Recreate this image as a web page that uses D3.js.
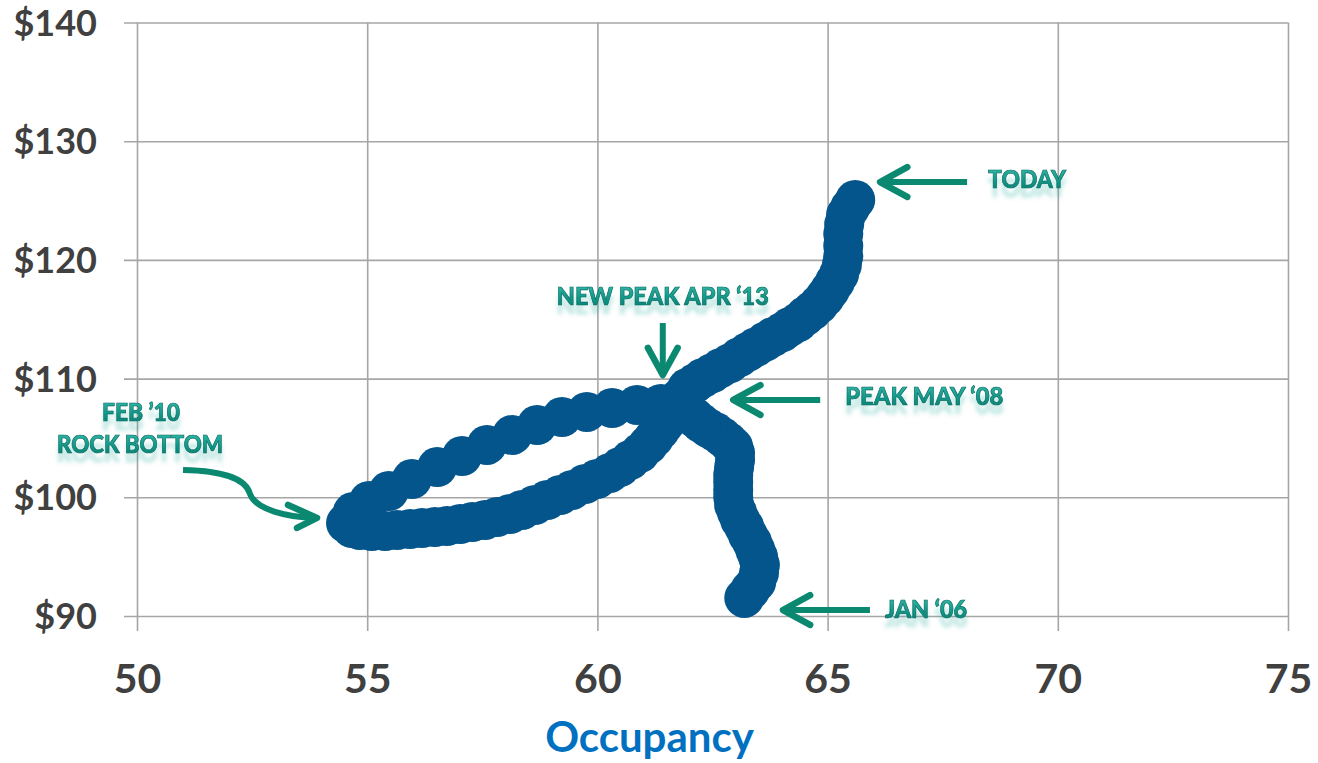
<!DOCTYPE html>
<html>
<head>
<meta charset="utf-8">
<script src="https://cdn.jsdelivr.net/npm/d3@7"></script>
<style>
  body { margin: 0; background: #ffffff; }
  svg { display: block; }
</style>
</head>
<body>
<svg id="chart" width="1318" height="763"></svg>
<script>
// Monthly hotel occupancy (%) vs average daily rate ($), Jan 2006 through today
const occupancy = [
  // Jan '06 -> May '08
  63.19, 63.32, 63.45, 63.51, 63.53, 63.49, 63.43, 63.36, 63.27, 63.19, 63.10, 63.03, 62.97, 62.95, 62.95, 62.95,
  62.95, 62.97, 62.99, 62.99, 62.95, 62.84, 62.71, 62.56, 62.40, 62.25, 62.12, 62.01, 61.90, 61.75, 61.62,
  // May '08 -> Feb '10
  61.38, 60.86, 60.32, 59.77, 59.23, 58.69, 58.15, 57.60, 57.06, 56.52, 55.97, 55.47, 55.04, 54.69, 54.54,
  // Feb '10 -> Apr '13
  54.67, 54.84, 55.10, 55.39, 55.65, 55.93, 56.19, 56.47, 56.73, 57.02, 57.28, 57.56, 57.82, 58.10, 58.36,
  58.64, 58.91, 59.19, 59.45, 59.73, 59.99, 60.27, 60.49, 60.71, 60.92, 61.10, 61.23, 61.36, 61.47, 61.56,
  61.66, 61.79,
  // Apr '13 -> today
  61.95, 62.12, 62.29, 62.49, 62.68, 62.88, 63.08, 63.27, 63.44, 63.64, 63.81, 64.01, 64.18, 64.36, 64.51,
  64.66, 64.81, 64.94, 65.05, 65.16, 65.25, 65.31, 65.34, 65.34, 65.34, 65.36, 65.40, 65.49, 65.60
];
const adr = [
  // Jan '06 -> May '08
  91.52, 92.19, 92.86, 93.62, 94.30, 94.97, 95.56, 96.23, 96.82, 97.50, 98.09, 98.76, 99.35, 100.03, 100.62, 101.29,
  101.88, 102.55, 103.14, 103.73, 104.24, 104.66, 105.08, 105.50, 105.84, 106.26, 106.68, 107.02, 107.35, 107.61, 107.86,
  // May '08 -> Feb '10
  107.86, 107.78, 107.52, 107.19, 106.76, 106.09, 105.25, 104.41, 103.48, 102.55, 101.54, 100.53, 99.69, 98.76, 97.83,
  // Feb '10 -> Apr '13
  97.41, 97.25, 97.16, 97.16, 97.25, 97.33, 97.41, 97.50, 97.58, 97.75, 97.92, 98.09, 98.34, 98.59, 98.93,
  99.35, 99.77, 100.19, 100.62, 101.12, 101.54, 102.05, 102.55, 103.14, 103.73, 104.41, 105.00, 105.67, 106.26, 106.93,
  107.61, 108.37,
  // Apr '13 -> today
  109.2, 109.6, 110.05, 110.45, 110.9, 111.3, 111.8, 112.25, 112.65, 113.1, 113.5, 113.9, 114.35, 114.75, 115.25,
  115.7, 116.25, 116.85, 117.45, 118.15, 118.81, 119.57, 120.3, 121.2, 122.2, 123.0, 123.8, 124.4, 125.05
];
const xTicks = [50, 55, 60, 65, 70, 75];
const yTicks = [90, 100, 110, 120, 130, 140];
const xTitle = "Occupancy";

// Callout texts and the data-space point each arrow tip points at
const noteLabels = [["TODAY"], ["NEW PEAK APR \u201813"], ["PEAK MAY \u201808"], ["JAN \u201806"], ["FEB \u201910", "ROCK BOTTOM"]];
const noteTipOcc = [66.14, 61.42, 62.95, 64.03, 53.91];
const noteTipAdr = [126.56, 110.3, 108.2, 90.5, 98.26];

const svg = d3.select("#chart");
const plotLeft = 137, plotRight = 1288, plotTop = 22.5, plotBottom = 616;

const x = d3.scaleLinear().domain([50, 75]).range([plotLeft, plotRight]);
const y = d3.scaleLinear().domain([90, 140]).range([plotBottom, plotTop]);

const gridColor = "#a6a6a6";
const labelColor = "#404040";
const noteColor = "#0a8870";

// Gradient for the callout lettering and a soft glow that trails beneath it
const defs = svg.append("defs");
const g1 = defs.append("linearGradient").attr("id", "noteFill").attr("x1", 0).attr("y1", 0).attr("x2", 0).attr("y2", 1);
g1.append("stop").attr("offset", "0%").attr("stop-color", "#3cc2b2");
g1.append("stop").attr("offset", "55%").attr("stop-color", "#139a8b");
g1.append("stop").attr("offset", "100%").attr("stop-color", "#0b7a6e");
const glow = defs.append("filter").attr("id", "glowBelow")
  .attr("x", "-10%").attr("y", "-30%").attr("width", "120%").attr("height", "200%");
glow.append("feGaussianBlur").attr("in", "SourceAlpha").attr("stdDeviation", 2.2).attr("result", "blur");
glow.append("feOffset").attr("in", "blur").attr("dy", 9).attr("result", "low");
glow.append("feFlood").attr("flood-color", "#1aa090").attr("flood-opacity", 0.28);
glow.append("feComposite").attr("in2", "low").attr("operator", "in").attr("result", "shade");
const merge = glow.append("feMerge");
merge.append("feMergeNode").attr("in", "shade");
merge.append("feMergeNode").attr("in", "SourceGraphic");

// Y axis: ticks reach out past the plot edge and continue as gridlines
const yAxis = svg.append("g")
  .attr("transform", `translate(${plotLeft - 13},0)`)
  .call(d3.axisLeft(y).tickValues(yTicks).tickSize(-(plotRight - plotLeft + 13)).tickFormat(d => "$" + d));
yAxis.select(".domain").remove();
yAxis.selectAll("line").attr("stroke", gridColor).attr("stroke-width", 1.6);
yAxis.selectAll("text")
  .attr("x", -27).attr("dy", null).attr("y", 12.5)
  .attr("fill", labelColor)
  .style("font-family", "Lato, 'Open Sans', sans-serif")
  .style("font-weight", 700).style("font-size", "36px");

// X axis
const xAxis = svg.append("g")
  .attr("transform", `translate(0,${plotBottom + 15})`)
  .call(d3.axisBottom(x).tickValues(xTicks).tickSize(-(plotBottom + 15 - plotTop)));
xAxis.select(".domain").remove();
xAxis.selectAll("line").attr("stroke", gridColor).attr("stroke-width", 1.6);
xAxis.selectAll("text")
  .attr("y", 62).attr("dy", null)
  .attr("fill", labelColor)
  .style("font-family", "Lato, 'Open Sans', sans-serif")
  .style("font-weight", 700).style("font-size", "41px");

svg.append("text")
  .attr("x", (x(60) + x(65)) / 2 - 63).attr("y", 752)
  .attr("text-anchor", "middle")
  .attr("fill", "#0070c0")
  .style("font-family", "Lato, 'Open Sans', sans-serif")
  .style("font-weight", 700).style("font-size", "42px")
  .text(xTitle);

// The path of monthly points, drawn as large overlapping dots
const points = occupancy.map((o, i) => ({ occ: o, rate: adr[i] }));
svg.append("g").selectAll("circle")
  .data(points)
  .join("circle")
  .attr("cx", d => x(d.occ))
  .attr("cy", d => y(d.rate))
  .attr("r", 20)
  .attr("fill", "#03558c");

// Callouts
const notes = svg.append("g");

function chevronArrow(g, x0, y0, x1, y1) {
  g.append("line").attr("x1", x0).attr("y1", y0).attr("x2", x1).attr("y2", y1)
    .attr("stroke", noteColor).attr("stroke-width", 6);
  const a = Math.atan2(y1 - y0, x1 - x0), len = 31, spread = 0.5;
  const pts = [
    [x1 - len * Math.cos(a - spread), y1 - len * Math.sin(a - spread)],
    [x1, y1],
    [x1 - len * Math.cos(a + spread), y1 - len * Math.sin(a + spread)]
  ];
  g.append("path").attr("d", d3.line()(pts))
    .attr("fill", "none").attr("stroke", noteColor).attr("stroke-width", 6.5)
    .attr("stroke-linecap", "round").attr("stroke-linejoin", "round");
}

function noteText(g, str, tx, ty, anchor, width) {
  g.append("text")
    .attr("x", tx).attr("y", ty)
    .attr("text-anchor", anchor)
    .attr("textLength", width).attr("lengthAdjust", "spacingAndGlyphs")
    .attr("fill", "url(#noteFill)")
    .attr("stroke", "#0a6d63").attr("stroke-width", 0.7)
    .attr("filter", "url(#glowBelow)")
    .style("font-family", "Lato, 'Open Sans', sans-serif")
    .style("font-weight", 900).style("font-size", "24px")
    .text(str);
}

const tips = noteTipOcc.map((o, i) => [x(o), y(noteTipAdr[i])]);

// TODAY
chevronArrow(notes, tips[0][0] + 87, tips[0][1], tips[0][0], tips[0][1]);
noteText(notes, noteLabels[0][0], tips[0][0] + 108, tips[0][1] + 6, "start", 78);
// NEW PEAK
chevronArrow(notes, tips[1][0], tips[1][1] - 52, tips[1][0], tips[1][1]);
noteText(notes, noteLabels[1][0], tips[1][0], tips[1][1] - 70, "middle", 212);
// PEAK MAY
chevronArrow(notes, tips[2][0] + 87, tips[2][1], tips[2][0], tips[2][1]);
noteText(notes, noteLabels[2][0], tips[2][0] + 112, tips[2][1] + 5, "start", 158);
// JAN
chevronArrow(notes, tips[3][0] + 87, tips[3][1], tips[3][0], tips[3][1]);
noteText(notes, noteLabels[3][0], tips[3][0] + 102, tips[3][1] + 8, "start", 82);
// ROCK BOTTOM: curved arrow
{
  const [tx, ty] = tips[4];
  const p = d3.path();
  p.moveTo(tx - 134, ty - 48);
  p.bezierCurveTo(tx - 89, ty - 47, tx - 71, ty - 38, tx - 67, ty - 24);
  p.bezierCurveTo(tx - 61, ty - 8, tx - 30, ty - 1, tx - 2, ty);
  notes.append("path").attr("d", p.toString())
    .attr("fill", "none").attr("stroke", noteColor).attr("stroke-width", 6);
  const head = [[tx - 29, ty - 13], [tx, ty], [tx - 20, ty + 10]];
  notes.append("path").attr("d", d3.line()(head))
    .attr("fill", "none").attr("stroke", noteColor).attr("stroke-width", 6.5)
    .attr("stroke-linecap", "round").attr("stroke-linejoin", "round");
  noteText(notes, noteLabels[4][0], tx - 176, ty - 97, "middle", 78);
  noteText(notes, noteLabels[4][1], tx - 177, ty - 65, "middle", 166);
}
</script>
</body>
</html>
